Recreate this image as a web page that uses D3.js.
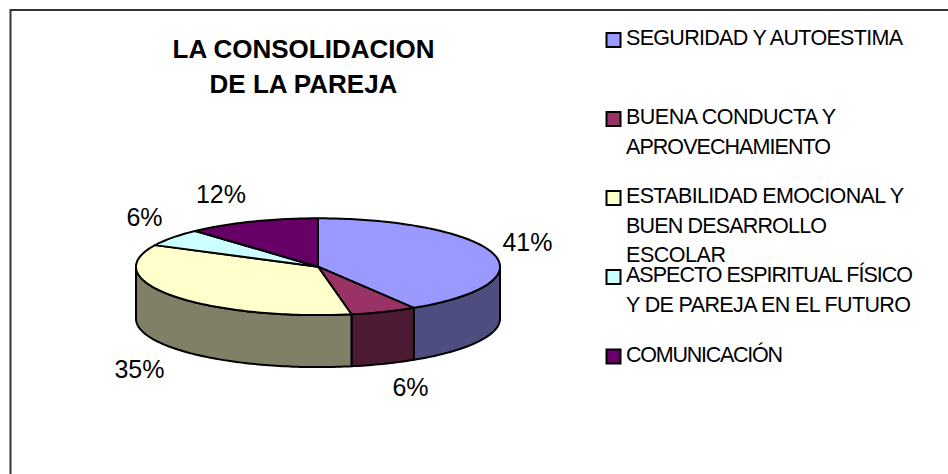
<!DOCTYPE html>
<html><head><meta charset="utf-8">
<script src="https://cdn.jsdelivr.net/npm/d3@7"></script>
<style>html,body{margin:0;padding:0;background:#fff}svg{display:block}text{font-family:"Liberation Sans",Arial,sans-serif;fill:#000}</style>
</head><body><div id="c"></div>
<script>
const titleLines = ["LA CONSOLIDACION","DE LA PAREJA"];
const categories = ["SEGURIDAD Y AUTOESTIMA","BUENA CONDUCTA Y APROVECHAMIENTO","ESTABILIDAD EMOCIONAL Y BUEN DESARROLLO ESCOLAR","ASPECTO ESPIRITUAL FÍSICO Y DE PAREJA EN EL FUTURO","COMUNICACIÓN"];
const values = [7,1,6,1,2];
const legendLines = [["SEGURIDAD Y AUTOESTIMA"],["BUENA CONDUCTA Y","APROVECHAMIENTO"],["ESTABILIDAD EMOCIONAL Y","BUEN DESARROLLO","ESCOLAR"],["ASPECTO ESPIRITUAL FÍSICO","Y DE PAREJA EN EL FUTURO"],["COMUNICACIÓN"]];
const topColors = ["#9999FF","#993366","#FFFFCC","#CCFFFF","#660066"];
const sideColors = ["#4D4D80","#4D1A33","#808066","#668080","#330033"];

const W=948,H=474, cx=318, cy=266.7, rx=182, ry=48.4, depth=52;
const svg=d3.select("#c").append("svg").attr("width",W).attr("height",H);
svg.append("rect").attr("x",10.5).attr("y",10).attr("width",W).attr("height",H).attr("fill","#fff").attr("stroke","#333").attr("stroke-width",2);

const sx=d3.scaleLinear().domain([-1,1]).range([cx-rx,cx+rx]);
const sy=d3.scaleLinear().domain([-1,1]).range([cy-ry,cy+ry]);
const arcs=d3.pie().sort(null).value(d=>d)(values);
const px=a=>sx(Math.sin(a)), py=a=>sy(-Math.cos(a));
const line=d3.line();
const g=svg.append("g").attr("stroke","#000").attr("stroke-width",2).attr("stroke-linejoin","round");

function sidePath(a0,a1){
  const n=Math.max(2,Math.ceil((a1-a0)/0.02));
  const pts=d3.range(n+1).map(i=>a0+(a1-a0)*i/n);
  const t=pts.map(a=>[px(a),py(a)]);
  const b=pts.slice().reverse().map(a=>[px(a),py(a)+depth]);
  return line(t.concat(b))+"Z";
}
// visible wall: the front half of the rim, from 90deg to 270deg
arcs.forEach((d,i)=>{
  const a0=Math.max(d.startAngle,Math.PI/2), a1=Math.min(d.endAngle,Math.PI*1.5);
  if(a1>a0) g.append("path").attr("d",sidePath(a0,a1)).attr("fill",sideColors[i]);
});
arcs.forEach((d,i)=>{
  const n=Math.max(2,Math.ceil((d.endAngle-d.startAngle)/0.02));
  const pts=d3.range(n+1).map(k=>{const a=d.startAngle+(d.endAngle-d.startAngle)*k/n;return [px(a),py(a)];});
  g.append("path").attr("d",line([[sx(0),sy(0)]].concat(pts))+"Z").attr("fill",topColors[i]);
});

// data labels
const labelPos=[[527.5,251],[410.5,396],[139.5,378],[144.5,226],[221,203]];
const total=d3.sum(values), fmt=d3.format(".0%");
svg.append("g").selectAll("text").data(values).join("text")
  .attr("x",(d,i)=>labelPos[i][0]).attr("y",(d,i)=>labelPos[i][1])
  .attr("text-anchor","middle").attr("font-size",25).text(d=>fmt(d/total));

// title
svg.append("g").selectAll("text").data(titleLines).join("text")
  .attr("x",303.5).attr("y",(d,i)=>58+i*35)
  .attr("text-anchor","middle").attr("font-size",26).attr("font-weight","bold").text(d=>d);

// legend
const legendY=[39,118,197,276,355.5];
const lineWidths=[[277],[210,205],[278,201,100],[287,285],[157]];
const lg=svg.append("g");
categories.forEach((c,i)=>{
  lg.append("rect").attr("x",606.5).attr("y",legendY[i]-6).attr("width",14).attr("height",14)
    .attr("fill",topColors[i]).attr("stroke","#000").attr("stroke-width",2);
  legendLines[i].forEach((t,j)=>{
    lg.append("text").attr("x",626).attr("y",legendY[i]+6+j*29.5).attr("font-size",21.5)
      .attr("textLength",lineWidths[i][j]).attr("lengthAdjust","spacing").text(t);
  });
});
</script></body></html>
